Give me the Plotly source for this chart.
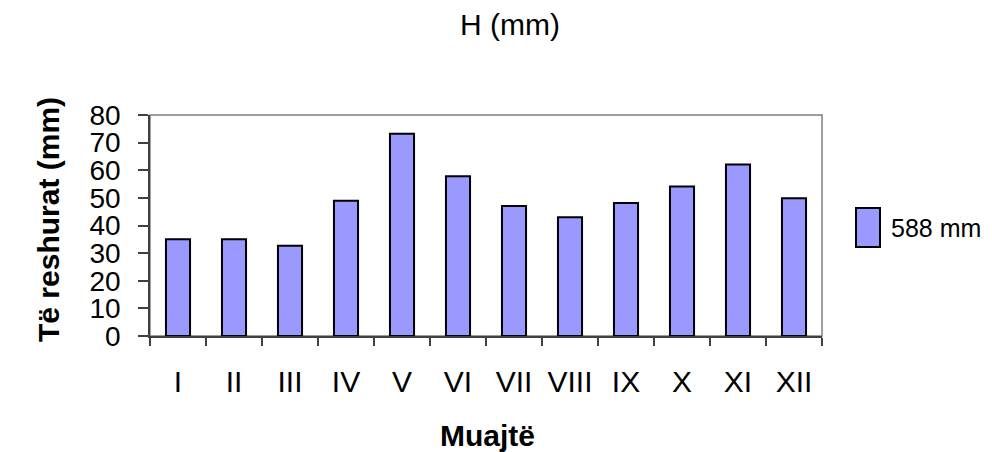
import plotly.graph_objects as go

months = ["I", "II", "III", "IV", "V", "VI", "VII", "VIII", "IX", "X", "XI", "XII"]
precip = [35.0, 35.0, 32.7, 49.0, 73.2, 57.8, 47.1, 43.0, 48.1, 54.1, 62.1, 49.9]
series_name = "588 mm"
chart_title = "H (mm)"
x_title = "Muajtë"
y_title = "Të reshurat (mm)"

FONT = "Liberation Sans, Arial, sans-serif"
NARROW = "Liberation Sans Narrow, Arial Narrow, Liberation Sans, sans-serif"
BAR = "#9999FF"

# page body has an 8px margin, so the figure is 984x444 placed at (8, 8)
W, H = 984, 444
PL, PR, PT, PB = 142, 814, 107, 328  # plot area in figure pixels
PW, PH = PR - PL, PB - PT

def px(x):
    return (x - 8 - PL) / PW

def py(y):
    return (PB - (y - 8)) / PH

fig = go.Figure()
fig.add_trace(go.Bar(
    x=months, y=precip, name=series_name,
    marker=dict(color=BAR, line=dict(color="black", width=2)),
    showlegend=False,
))

# plot-area frame (top/right in gray)
fig.add_shape(type="rect", xref="paper", yref="paper", x0=0, x1=1, y0=0, y1=1,
              line=dict(color="#808080", width=1.5), layer="below")

# custom legend (tall swatch + label)
fig.add_shape(type="rect", xref="paper", yref="paper",
              x0=px(856), x1=px(880), y0=py(247), y1=py(208),
              line=dict(color="black", width=2), fillcolor=BAR)
fig.add_annotation(xref="paper", yref="paper", x=px(889), y=py(228),
                   xanchor="left", yanchor="middle", showarrow=False,
                   text=series_name, font=dict(family=FONT, size=25, color="black"))

# axis titles
fig.add_annotation(xref="paper", yref="paper", x=px(487), y=py(435),
                   xanchor="center", yanchor="middle", showarrow=False,
                   text="<b>" + x_title + "</b>", font=dict(family=FONT, size=30, color="black"))
fig.add_annotation(xref="paper", yref="paper", x=px(48), y=py(220),
                   xanchor="center", yanchor="middle", showarrow=False, textangle=-90,
                   text="<b>" + y_title + "</b>", font=dict(family=FONT, size=30, color="black"))

fig.update_layout(
    width=W, height=H,
    margin=dict(l=PL, r=W - PR, t=PT, b=H - PB, pad=0),
    paper_bgcolor="white", plot_bgcolor="white",
    bargap=0.57,
    title=dict(text=chart_title, x=(510 - 8) / W, xanchor="center", y=1 - (24 - 8) / H, yanchor="middle",
               yref="container", font=dict(family=FONT, size=30, color="black")),
    font=dict(family=FONT, color="black"),
    xaxis=dict(
        type="category", tickson="boundaries", ticks="outside", ticklen=8,
        tickcolor="#404040", tickwidth=1.5,
        showline=True, linecolor="#404040", linewidth=1.5,
        showgrid=False, zeroline=False,
        tickfont=dict(family=NARROW, size=30, color="black"),
        ticklabelstandoff=18,
    ),
    yaxis=dict(
        range=[0, 80], dtick=10, ticks="outside", ticklen=10,
        tickcolor="#404040", tickwidth=1.5,
        showline=True, linecolor="#404040", linewidth=1.5,
        showgrid=False, zeroline=False,
        tickfont=dict(family=FONT, size=28, color="black"),
        ticklabelstandoff=12,
    ),
)

fig.write_html("out.html")
